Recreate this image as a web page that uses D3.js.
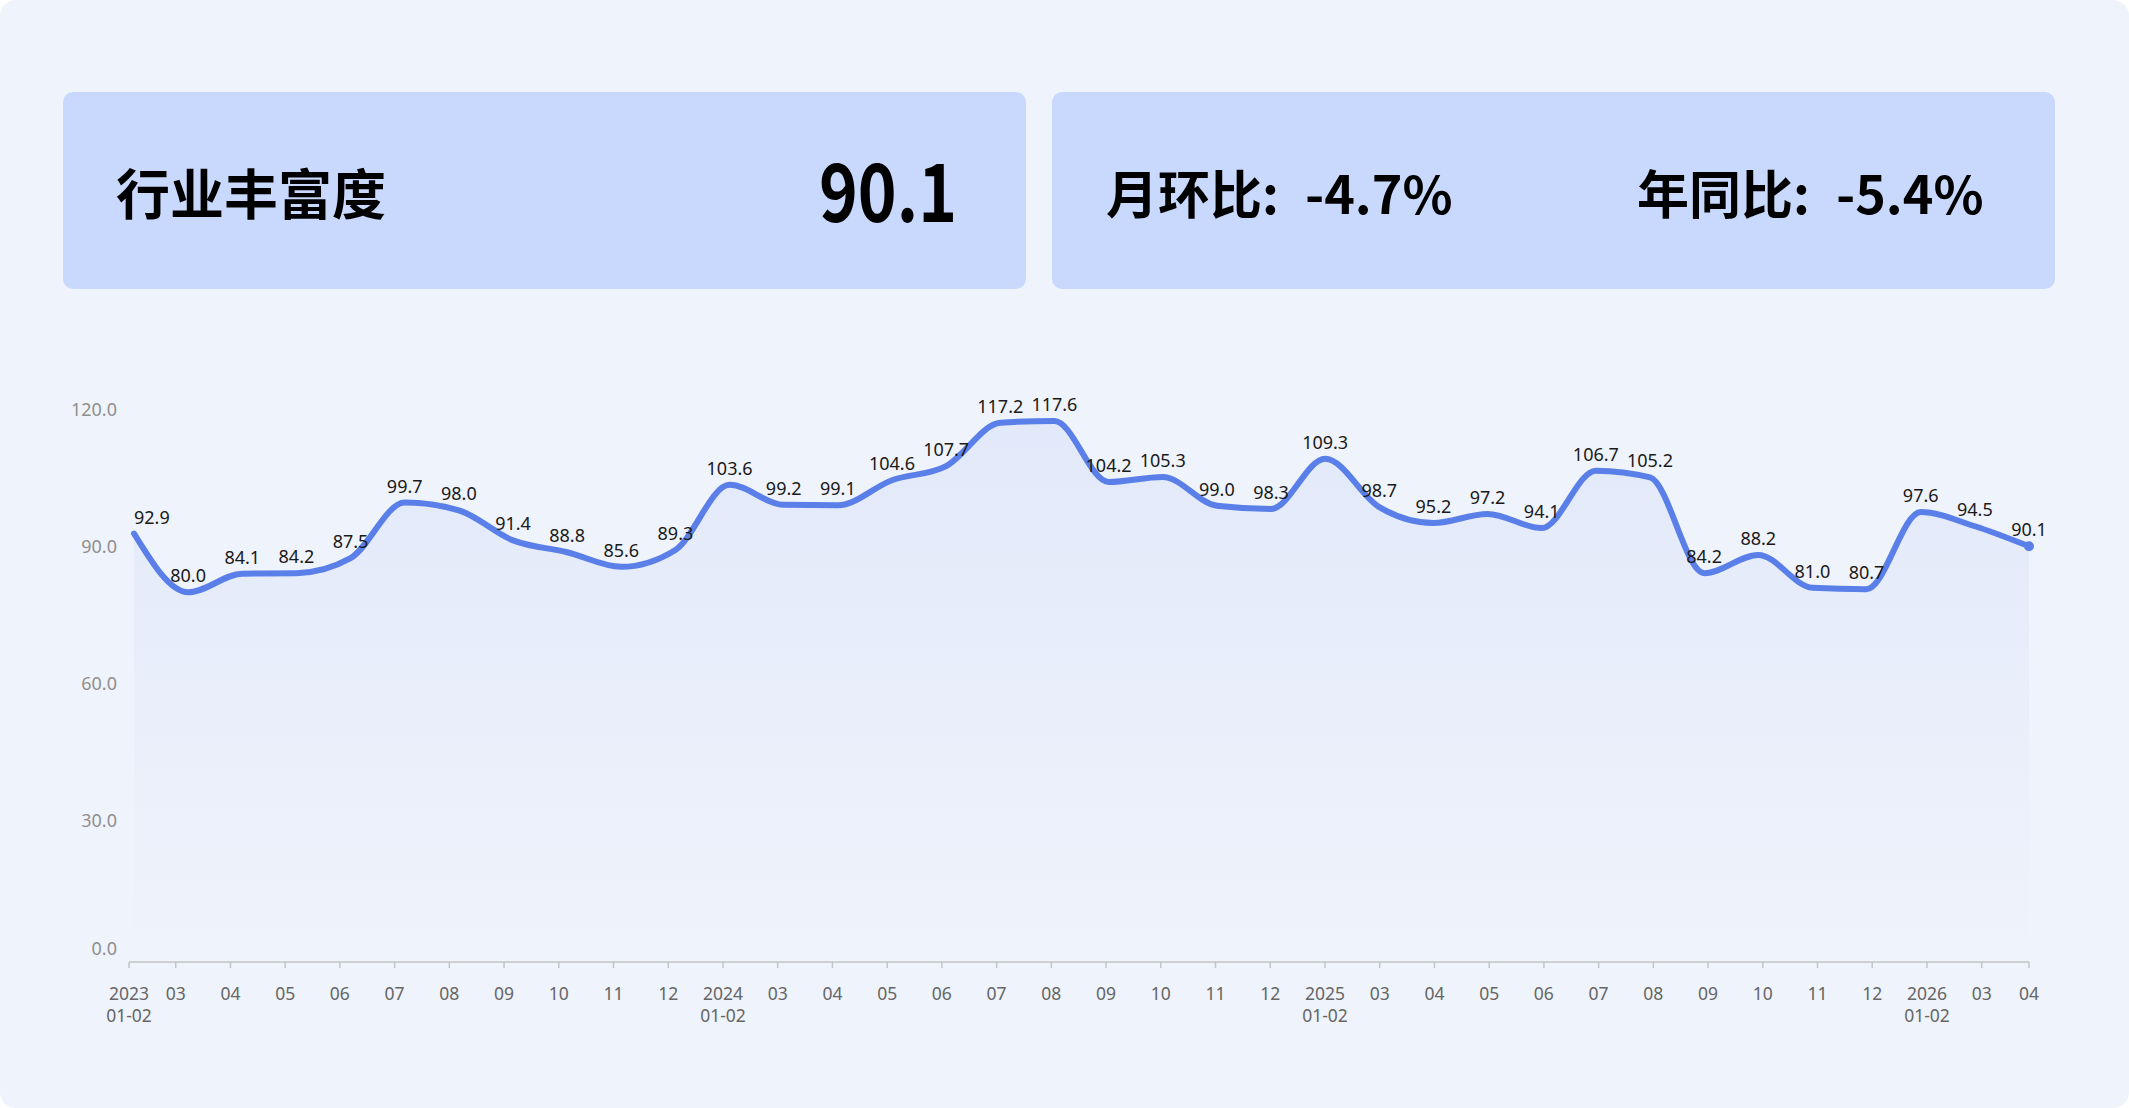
<!DOCTYPE html>
<html>
<head>
<meta charset="utf-8">
<script src="https://cdn.jsdelivr.net/npm/d3@7"></script>
<style>
  body { margin: 0; background: #ffffff; }
  svg { display: block; }
</style>
</head>
<body>
<div id="chart"></div>
<script>
// periods on the x axis (Jan and Feb are reported together)
const periods = [
  "2023-01-02", "2023-03", "2023-04", "2023-05", "2023-06", "2023-07", "2023-08", "2023-09", "2023-10", "2023-11", "2023-12",
  "2024-01-02", "2024-03", "2024-04", "2024-05", "2024-06", "2024-07", "2024-08", "2024-09", "2024-10", "2024-11", "2024-12",
  "2025-01-02", "2025-03", "2025-04", "2025-05", "2025-06", "2025-07", "2025-08", "2025-09", "2025-10", "2025-11", "2025-12",
  "2026-01-02", "2026-03", "2026-04"
];
const values = [
  92.9, 80.0, 84.1, 84.2, 87.5, 99.7, 98.0, 91.4, 88.8, 85.6, 89.3,
  103.6, 99.2, 99.1, 104.6, 107.7, 117.2, 117.6, 104.2, 105.3, 99.0, 98.3,
  109.3, 98.7, 95.2, 97.2, 94.1, 106.7, 105.2, 84.2, 88.2, 81.0, 80.7,
  97.6, 94.5, 90.1
];
const yTicks = [0, 30, 60, 90, 120];

const kpiTitle = "行业丰富度";
const kpiValue = "90.1";
const momName = "月环比:";
const momValue = "-4.7%";
const yoyName = "年同比:";
const yoyValue = "-5.4%";

const width = 2129;
const height = 1108;
const lineColor = "#5a7fe8";
const bg = "#eff3fb";
const boxColor = "#c8d9fd";

const svg = d3.select("#chart")
  .append("svg")
  .attr("width", width)
  .attr("height", height);

svg.append("rect")
  .attr("width", width)
  .attr("height", height)
  .attr("rx", 16)
  .attr("fill", bg);

// KPI cards
svg.append("rect")
  .attr("x", 63).attr("y", 92)
  .attr("width", 963).attr("height", 197)
  .attr("rx", 10)
  .attr("fill", boxColor);

svg.append("rect")
  .attr("x", 1052).attr("y", 92)
  .attr("width", 1003).attr("height", 197)
  .attr("rx", 10)
  .attr("fill", boxColor);

const cjk = "'Noto Sans CJK SC', 'Noto Sans', sans-serif";

svg.append("text")
  .attr("x", 116).attr("y", 215)
  .text(kpiTitle)
  .style("font-family", cjk)
  .style("font-weight", 700)
  .style("font-size", "54px")
  .style("fill", "#000");

svg.append("text")
  .attr("x", 957).attr("y", 222)
  .attr("text-anchor", "end")
  .attr("textLength", 138)
  .attr("lengthAdjust", "spacingAndGlyphs")
  .text(kpiValue)
  .style("font-family", cjk)
  .style("font-weight", 700)
  .style("font-size", "80px")
  .style("fill", "#000");

[[1106, momName, momValue], [1637, yoyName, yoyValue]].forEach(([x, name, val]) => {
  const t = svg.append("text")
    .attr("x", x).attr("y", 214)
    .style("font-family", cjk)
    .style("font-weight", 700)
    .style("font-size", "52px")
    .style("fill", "#000");
  t.append("tspan").text(name);
  t.append("tspan").attr("dx", 26).text(val);
});

// scales
const x = d3.scalePoint().domain(periods).range([134, 2029]);
const y = d3.scaleLinear().domain([0, 120]).range([957, 410]);

// axis ticks sit on a slightly different grid than the points
const axisStart = 129, axisEnd = 2029, axisY = 962;
const xTick = d3.scaleLinear().domain([1, periods.length - 2]).range([175.7, 1981.7]);
const tickX = i => Math.max(axisStart, Math.min(axisEnd, xTick(i)));

// y labels
svg.append("g")
  .selectAll("text")
  .data(yTicks)
  .join("text")
  .attr("x", 117)
  .attr("y", d => d === 0 ? y(d) - 8 : y(d))
  .attr("dy", "0.35em")
  .attr("text-anchor", "end")
  .text(d => d3.format(".1f")(d))
  .style("font-family", "'Noto Sans', sans-serif")
  .style("font-size", "18px")
  .style("fill", "#8f8f8f");

// x axis
const xAxis = svg.append("g");
xAxis.append("line")
  .attr("x1", axisStart).attr("x2", axisEnd)
  .attr("y1", axisY).attr("y2", axisY)
  .attr("stroke", "#c4c4c4")
  .attr("stroke-width", 1.5);

xAxis.selectAll(".tick")
  .data(periods)
  .join("line")
  .attr("class", "tick")
  .attr("x1", (d, i) => tickX(i)).attr("x2", (d, i) => tickX(i))
  .attr("y1", axisY).attr("y2", axisY + 6)
  .attr("stroke", "#c4c4c4")
  .attr("stroke-width", 1.5);

const tickLabels = xAxis.selectAll(".tlabel")
  .data(periods)
  .join("text")
  .attr("class", "tlabel")
  .attr("text-anchor", "middle")
  .style("font-family", "'Noto Sans', sans-serif")
  .style("font-size", "17.5px")
  .style("fill", "#666");

tickLabels.each(function (d, i) {
  const [yr, mm] = [d.slice(0, 4), d.slice(5)];
  const t = d3.select(this);
  const lines = mm === "01-02" ? [yr, mm] : [mm];
  lines.forEach((l, k) => {
    t.append("tspan")
      .attr("x", tickX(i))
      .attr("y", 1000 + k * 22)
      .text(l);
  });
});

// area + line
const grad = svg.append("defs").append("linearGradient")
  .attr("id", "areaGrad")
  .attr("gradientUnits", "userSpaceOnUse")
  .attr("x1", 0).attr("x2", 0)
  .attr("y1", y(120)).attr("y2", y(0));
grad.append("stop").attr("offset", "0%").attr("stop-color", lineColor).attr("stop-opacity", 0.09);
grad.append("stop").attr("offset", "100%").attr("stop-color", lineColor).attr("stop-opacity", 0);

const area = d3.area()
  .x((d, i) => x(periods[i]))
  .y0(y(0))
  .y1(d => y(d))
  .curve(d3.curveMonotoneX);

svg.append("path")
  .datum(values)
  .attr("d", area)
  .attr("fill", "url(#areaGrad)");

const line = d3.line()
  .x((d, i) => x(periods[i]))
  .y(d => y(d))
  .curve(d3.curveMonotoneX);

svg.append("path")
  .datum(values)
  .attr("d", line)
  .attr("fill", "none")
  .attr("stroke", lineColor)
  .attr("stroke-width", 6)
  .attr("stroke-linecap", "round")
  .attr("stroke-linejoin", "round");

// last point marker
svg.append("circle")
  .attr("cx", x(periods[periods.length - 1]))
  .attr("cy", y(values[values.length - 1]))
  .attr("r", 5)
  .attr("fill", lineColor);

// value labels
svg.append("g")
  .selectAll("text")
  .data(values)
  .join("text")
  .attr("x", (d, i) => x(periods[i]))
  .attr("y", d => y(d) - 10)
  .attr("text-anchor", (d, i) => i === 0 ? "start" : "middle")
  .text(d => d.toFixed(1))
  .style("font-family", "'Noto Sans', sans-serif")
  .style("font-size", "18px")
  .style("fill", "#1a1a1a");
</script>
</body>
</html>
